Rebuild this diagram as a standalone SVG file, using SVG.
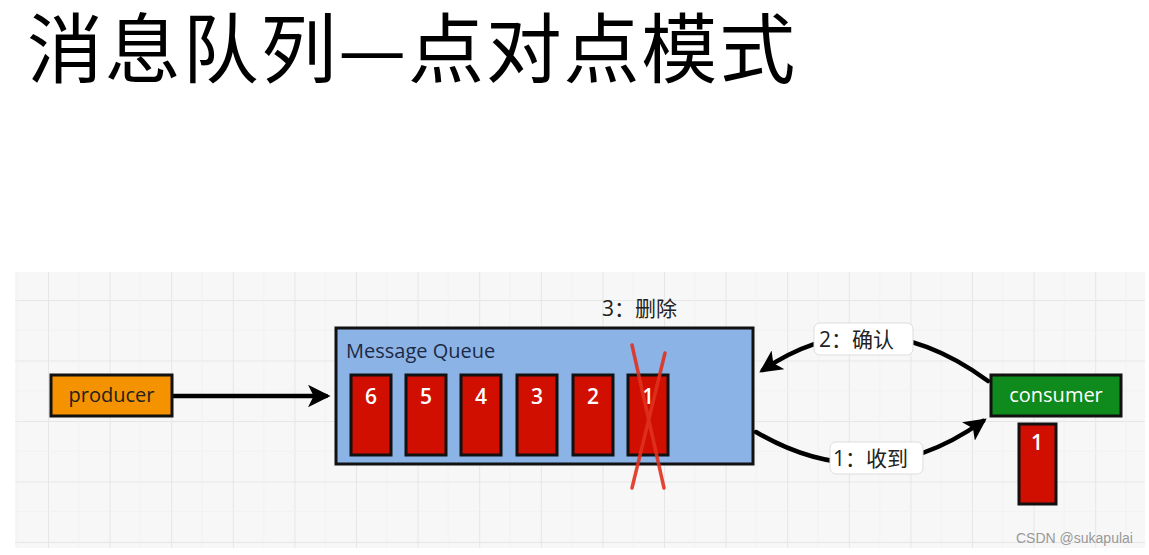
<svg xmlns="http://www.w3.org/2000/svg" width="1149" height="555" viewBox="0 0 1149 555">
<defs>
<pattern id="grid" x="48" y="300" width="61.6" height="60.5" patternUnits="userSpaceOnUse">
<path d="M0 0 V60.5 M0 0 H61.6" fill="none" stroke="#e6e6e6" stroke-width="2"/>
<path d="M30.8 0 V60.5 M0 30.25 H61.6" fill="none" stroke="#f1f1f1" stroke-width="1"/>
</pattern>
<marker id="ah" viewBox="0 0 10 10" refX="8" refY="5" markerWidth="5" markerHeight="5" orient="auto" markerUnits="strokeWidth">
<path d="M0 0 L10 5 L0 10 L2.5 5 Z" fill="#000"/>
</marker>
<style>
.t{font-family:"Open Sans","Noto Sans",sans-serif;font-size:20px;font-weight:500;}
.cjk{font-family:"Open Sans","Noto Sans CJK SC",sans-serif;font-size:21px;fill:#222;}
.blk{fill:#d10f00;stroke:#111;stroke-width:3;}
.num{font-family:"Open Sans","Noto Sans",sans-serif;font-size:21px;font-weight:600;fill:#fff;text-anchor:middle;}
.conn{fill:none;stroke:#000;stroke-width:4.5;stroke-linecap:round;}
.lbl{fill:#fff;stroke:#ddd;stroke-width:1;}
</style>
</defs>
<rect width="1149" height="555" fill="#fff"/>
<text x="27" y="77" font-family="'Noto Sans CJK SC',sans-serif" font-size="76" font-weight="400" letter-spacing="1.8" fill="#000">消息队列—点对点模式</text>

<rect x="15" y="272" width="1130" height="276" fill="#f7f7f7"/>
<rect x="15" y="272" width="1130" height="276" fill="url(#grid)"/>

<g id="connectors">
<path class="conn" d="M174 396 H326" marker-end="url(#ah)"/>
<path class="conn" d="M988 381 Q 872 296 763 370" marker-end="url(#ah)"/>
<path class="conn" d="M756 432 Q 872 500 983 421" marker-end="url(#ah)"/>
<g id="label-2">
<rect class="lbl" x="814" y="323" width="99" height="32" rx="6"/>
<text class="cjk" x="819" y="347">2：确认</text>
</g>
<g id="label-1">
<rect class="lbl" x="830" y="442" width="93" height="32" rx="6"/>
<text class="cjk" x="833" y="466">1：收到</text>
</g>
</g>

<g id="producer">
<rect x="51" y="375" width="121" height="41" fill="#f59200" stroke="#111" stroke-width="3"/>
<text class="t" x="111.5" y="402" text-anchor="middle" fill="#222">producer</text>
</g>

<g id="queue">
<rect x="336" y="328" width="417" height="136" fill="#8cb3e6" stroke="#111" stroke-width="3"/>
<text class="t" x="346" y="358" fill="#1c2a44">Message Queue</text>
<g id="msg6"><rect class="blk" x="351" y="375" width="40" height="80"/><text class="num" x="371" y="404">6</text></g>
<g id="msg5"><rect class="blk" x="406" y="375" width="40" height="80"/><text class="num" x="426" y="404">5</text></g>
<g id="msg4"><rect class="blk" x="461" y="375" width="40" height="80"/><text class="num" x="481" y="404">4</text></g>
<g id="msg3"><rect class="blk" x="517" y="375" width="40" height="80"/><text class="num" x="537" y="404">3</text></g>
<g id="msg2"><rect class="blk" x="573" y="375" width="40" height="80"/><text class="num" x="593" y="404">2</text></g>
<g id="msg1"><rect class="blk" x="628" y="375" width="40" height="80"/><text class="num" x="648" y="404">1</text></g>
</g>

<g id="delete-mark">
<path d="M632 345 L664 488 M665 353 L632 488" stroke="#e0321e" stroke-width="3.5" stroke-linecap="round" opacity="0.9"/>
</g>

<g id="delete-label">
<text class="cjk" x="602" y="316">3：删除</text>
</g>

<g id="consumer">
<rect x="991" y="375" width="130" height="41" fill="#0f8a1c" stroke="#111" stroke-width="3"/>
<text class="t" x="1056" y="402" text-anchor="middle" fill="#fff">consumer</text>
</g>

<g id="consumed-msg">
<rect class="blk" x="1019" y="424" width="37" height="80"/>
<text class="num" x="1037" y="450">1</text>
</g>

<text x="1016" y="543" font-family="'Liberation Sans',sans-serif" font-size="14" fill="#999">CSDN @sukapulai</text>
</svg>
